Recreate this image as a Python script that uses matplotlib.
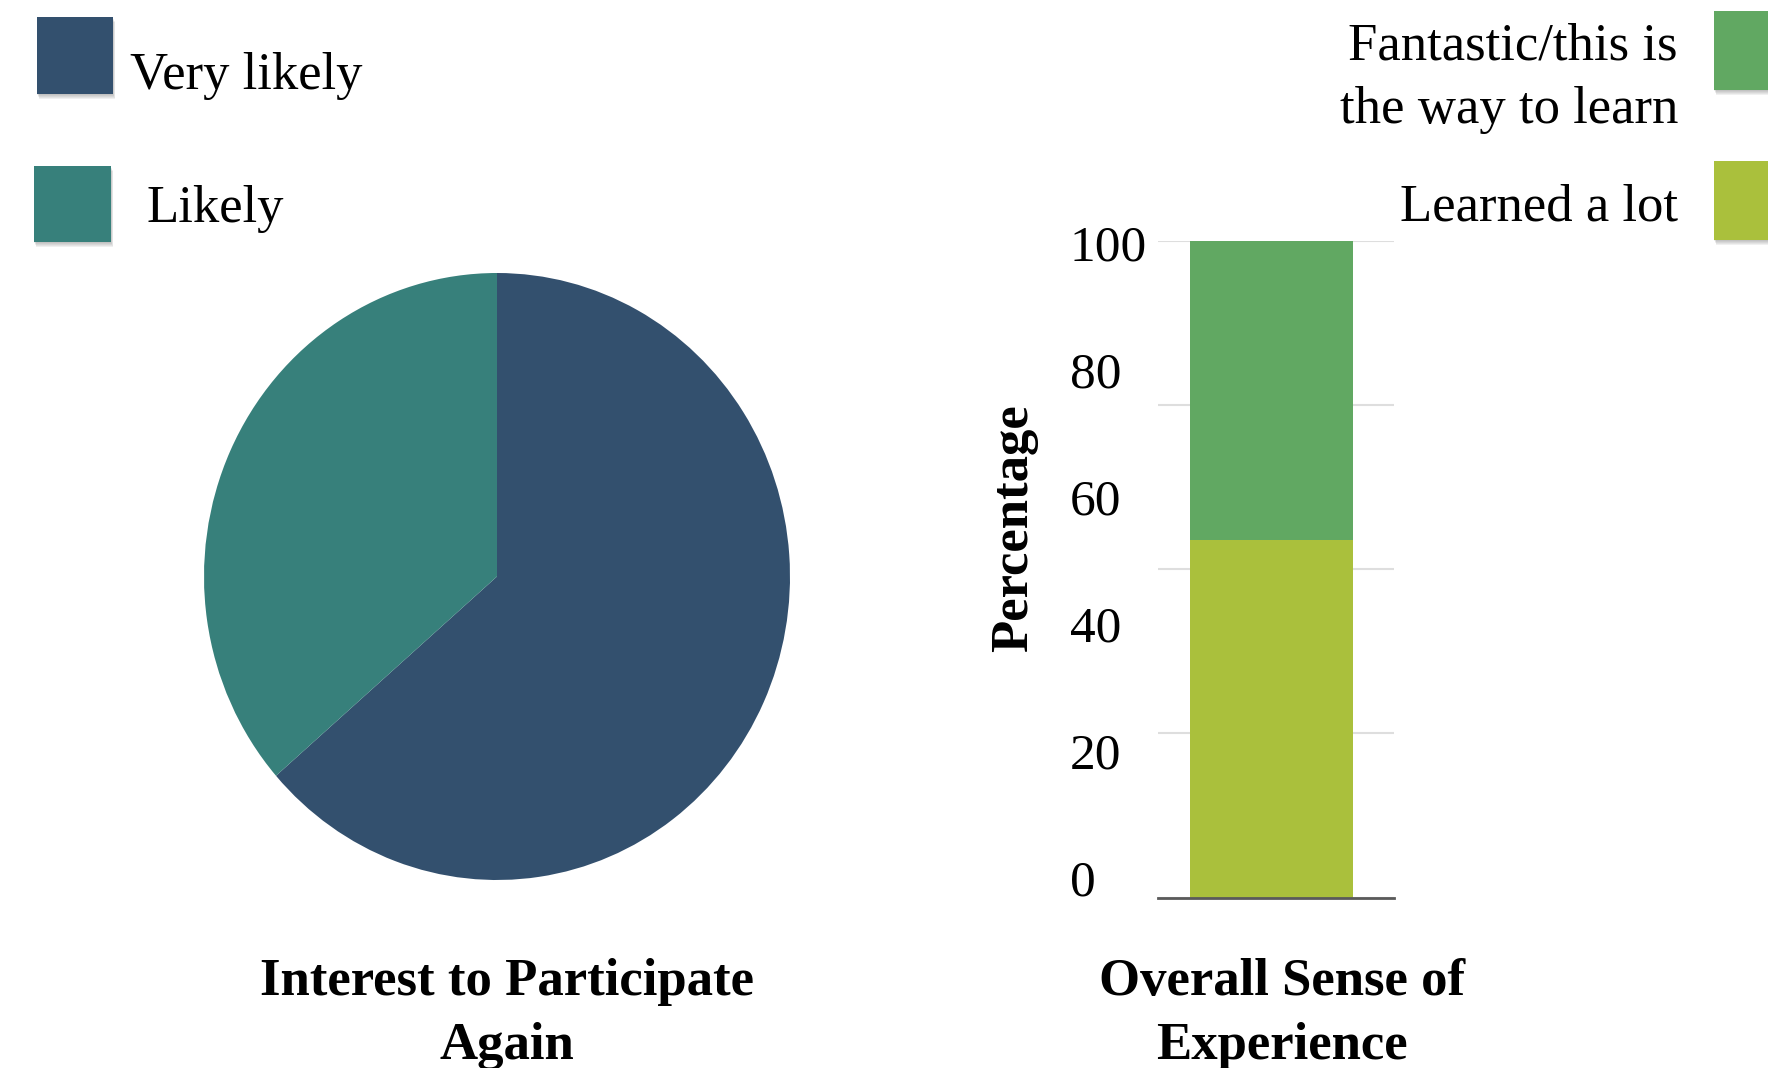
import matplotlib
matplotlib.use("Agg")
import matplotlib.pyplot as plt
from matplotlib.patches import Rectangle

plt.rcParams['font.family'] = ['Liberation Serif', 'DejaVu Serif']

# interest to participate again (percent of respondents)
interest_labels = ["Very likely", "Likely"]
interest_values = [63.6, 36.4]
interest_colors = ["#33506e", "#37807b"]

# overall sense of experience, stacked bottom to top (percent)
experience_labels = ["Learned a lot", "Fantastic/this is\nthe way to learn"]
experience_values = [54.5, 45.5]
experience_colors = ["#aac03c", "#61a862"]

chart_titles = ["Interest to Participate\nAgain", "Overall Sense of\nExperience"]

grid_ticks = [0, 25, 50, 75, 100]
label_ticks = [0, 20, 40, 60, 80, 100]

W, H = 1768, 1068
fig = plt.figure(figsize=(W / 100, H / 100), dpi=100)


def fx(x):
    return x / W


def fy(y):
    return 1 - y / H


def rect_axes(x0, y0, x1, y1):
    return [fx(x0), fy(y1), (x1 - x0) / W, (y1 - y0) / H]


def lines_text(x, y, s, step, **kw):
    # one text per line so the baselines land where we want them
    for i, line in enumerate(s.split("\n")):
        fig.text(fx(x), fy(y + i * step), line, va='baseline', fontsize=38, **kw)


def legend_box(x0, y0, x1, y1, color):
    # soft drop shadow under the swatch
    for k in range(1, 6):
        fig.patches.append(Rectangle((fx(x0 + 0.4 * k), fy(y1 + k)), (x1 - x0) / W, (y1 - y0) / H,
                                     transform=fig.transFigure, color="#606060", alpha=0.09,
                                     linewidth=0, zorder=1))
    fig.patches.append(Rectangle((fx(x0), fy(y1)), (x1 - x0) / W, (y1 - y0) / H,
                                 transform=fig.transFigure, color=color, linewidth=0, zorder=2))


# ---- pie ----
ax_pie = fig.add_axes(rect_axes(204, 273, 790, 880))
ax_pie.pie(interest_values, colors=interest_colors, startangle=90, counterclock=False,
           radius=1, wedgeprops=dict(linewidth=0))
ax_pie.set_aspect('auto')
ax_pie.set_xlim(-1, 1)
ax_pie.set_ylim(-1, 1)
ax_pie.axis('off')

legend_box(37, 17, 113, 94, interest_colors[0])
legend_box(34, 166, 111, 242, interest_colors[1])
lines_text(130, 89, interest_labels[0], 0, ha='left')
lines_text(147, 222, interest_labels[1], 0, ha='left')

lines_text(507, 995, chart_titles[0], 63.5, ha='center', fontweight='bold')

# ---- stacked bar ----
bar_rect = rect_axes(1158, 241, 1394, 897.6)

# tick labels live on their own axis
ax_lab = fig.add_axes(bar_rect)
ax_lab.set_ylim(-3.15, 100.33)
ax_lab.set_yticks(label_ticks)
ax_lab.set_xticks([])
ax_lab.tick_params(axis='y', length=0, pad=63.4, labelsize=37)
for t in ax_lab.get_yticklabels():
    t.set_ha('left')
for s in ax_lab.spines.values():
    s.set_visible(False)
ax_lab.patch.set_visible(False)

ax_bar = fig.add_axes(bar_rect)
bottom = 0
for val, col in zip(experience_values, experience_colors):
    ax_bar.bar(0, val, width=0.69, bottom=bottom, color=col, linewidth=0, zorder=2)
    bottom += val
ax_bar.set_xlim(-0.481, 0.519)
ax_bar.set_ylim(0, 100)
ax_bar.set_yticks(grid_ticks)
ax_bar.set_yticklabels([])
ax_bar.set_xticks([])
ax_bar.tick_params(length=0)
ax_bar.grid(axis='y', color='#dedede', linewidth=1.5, zorder=0)
ax_bar.set_axisbelow(True)
ax_bar.axhline(0, color='#5a5a5a', linewidth=2, zorder=3, clip_on=False)
for s in ax_bar.spines.values():
    s.set_visible(False)
ax_bar.patch.set_visible(False)

fig.text(fx(1014), fy(528), "Percentage", fontsize=38, fontweight='bold', rotation=90,
         ha='center', va='center')

legend_box(1714, 11, 1790, 90, experience_colors[1])
legend_box(1714, 161, 1790, 240, experience_colors[0])
lines_text(1678, 60, experience_labels[1], 62.5, ha='right')
lines_text(1678, 220, experience_labels[0], 0, ha='right')

lines_text(1282, 995, chart_titles[1], 63.5, ha='center', fontweight='bold')

fig.savefig("out.png", dpi=100, facecolor='white')
